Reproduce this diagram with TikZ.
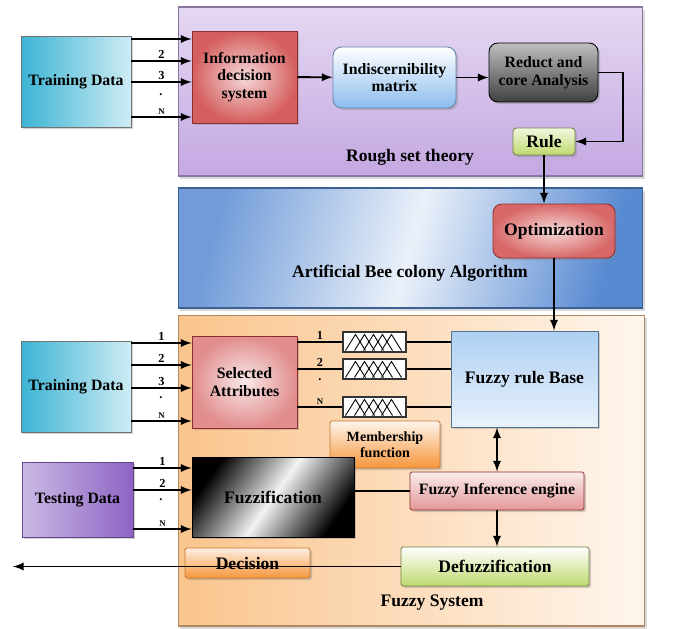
\documentclass[tikz,border=0pt]{standalone}
\usepackage{fontspec}
\setmainfont{Liberation Serif}
\usetikzlibrary{arrows, shadows, calc, positioning}

\definecolor{tdcyan}{RGB}{60,180,212}
\definecolor{rstpurple}{RGB}{196,168,226}
\definecolor{abcblue}{RGB}{88,138,210}
\definecolor{fsorange}{RGB}{250,196,140}
\definecolor{idsred}{RGB}{206,66,66}
\definecolor{indblue}{RGB}{140,188,238}
\definecolor{rulegreen}{RGB}{190,218,110}
\definecolor{tsdpurple}{RGB}{140,100,196}
\definecolor{mforange}{RGB}{246,150,60}

\tikzset{
  panel/.style={draw=#1!70!black, line width=0.6pt, drop shadow={opacity=0.3, shadow xshift=1pt, shadow yshift=-1.5pt}},
  blk/.style={draw=black!55, line width=0.5pt, align=center, inner sep=1pt,
    font=\bfseries\fontsize{10}{11}\selectfont,
    drop shadow={opacity=0.35, shadow xshift=1.2pt, shadow yshift=-1.2pt}},
  small/.style={font=\bfseries\fontsize{9}{10}\selectfont},
  lbl/.style={font=\bfseries\fontsize{7}{8}\selectfont, inner sep=1pt},
  nlbl/.style={font=\bfseries\fontsize{5}{6}\selectfont, inner sep=1pt},
  title/.style={font=\bfseries\fontsize{10}{11}\selectfont, inner sep=0pt},
  wire/.style={line width=1.1pt},
}

\begin{document}
\begin{tikzpicture}[x=0.02cm, y=-0.02cm, >=latex]
\useasboundingbox (0,0) rectangle (675,628);

\node[panel=rstpurple, top color=rstpurple!45, bottom color=rstpurple, minimum width=9.3cm, minimum height=3.38cm] (rst) at (410.5,91.5) {};
\node[panel=abcblue, shading=axis, left color=abcblue!85, right color=abcblue, middle color=abcblue!12, shading angle=75, minimum width=9.3cm, minimum height=2.4cm] (abc) at (410.5,248) {};
\node[panel=fsorange, left color=fsorange, right color=fsorange!15, minimum width=9.34cm, minimum height=6.22cm] (fs) at (411.5,470.5) {};

\node[title] (rsttxt) at (410,157) {Rough set theory};
\node[title] (abctxt) at (410,273) {Artificial Bee colony Algorithm};
\node[title] (fstxt) at (432,603) {Fuzzy System};

\node[blk, small, left color=tdcyan, right color=tdcyan!25, minimum width=2.2cm, minimum height=1.82cm] (td1) at (76,81.5) {Training Data};
\node[blk, small, draw=idsred!70!black, inner color=idsred!20, outer color=idsred!85, minimum width=2.1cm, minimum height=1.84cm] (ids) at (244.5,77) {Information\\decision\\system};
\node[blk, small, rounded corners=5pt, top color=white, bottom color=indblue, draw=indblue!70!black, minimum width=2.46cm, minimum height=1.22cm] (ind) at (394.5,77.5) {Indiscernibility\\matrix};
\node[blk, small, rounded corners=5pt, top color=black!25, bottom color=black!75, draw=black, minimum width=2.18cm, minimum height=1.18cm] (reduct) at (543.5,72.5) {Reduct and\\core Analysis};
\node[blk, rounded corners=2pt, top color=rulegreen!20, bottom color=rulegreen, draw=rulegreen!60!black, minimum width=1.24cm, minimum height=0.54cm] (rule) at (544,141.5) {Rule};
\node[blk, rounded corners=5pt, draw=idsred!70!black, inner color=idsred!20, outer color=idsred!80, minimum width=2.44cm, minimum height=1.08cm] (opt) at (554,231) {Optimization};

\node[blk, small, left color=tdcyan, right color=tdcyan!25, minimum width=2.2cm, minimum height=1.82cm] (td2) at (76,386.5) {Training Data};
\node[blk, small, draw=idsred!70!black, inner color=idsred!12, outer color=idsred!60, minimum width=2.1cm, minimum height=1.84cm] (sa) at (244.5,382) {Selected\\Attributes};
\node[draw=black!80, fill=white, line width=0.6pt, minimum width=1.26cm, minimum height=0.4cm] (mf1) at (374.5,342) {};
\node[draw=black!80, fill=white, line width=0.6pt, minimum width=1.26cm, minimum height=0.4cm] (mf2) at (374.5,369) {};
\node[draw=black!80, fill=white, line width=0.6pt, minimum width=1.26cm, minimum height=0.4cm] (mf3) at (374.5,407) {};
\node[blk, top color=indblue!70, bottom color=indblue!20, draw=indblue!60!black, minimum width=2.94cm, minimum height=1.92cm] (frb) at (524.5,379) {Fuzzy rule Base};
\node[blk, font=\bfseries\fontsize{8}{9}\selectfont, rounded corners=1pt, top color=mforange!10, bottom color=mforange, draw=mforange!80!black, minimum width=2.2cm, minimum height=0.94cm] (mfn) at (385,444.5) {Membership\\function};

\node[blk, small, left color=tsdpurple!45, right color=tsdpurple, draw=tsdpurple!70!black, minimum width=2.22cm, minimum height=1.5cm] (tsd) at (77.5,499.5) {Testing Data};
\node[blk, shading=axis, left color=black, right color=black, middle color=black!5, shading angle=55, draw=black, minimum width=3.24cm, minimum height=1.6cm] (fuzz) at (273,497) {Fuzzification};
\node[blk, rounded corners=1pt, top color=mforange!15, bottom color=mforange, draw=mforange!80!black, minimum width=2.5cm, minimum height=0.6cm] (dec) at (247.5,563) {Decision};
\node[blk, small, rounded corners=1pt, top color=idsred!10, bottom color=idsred!55, draw=idsred!70!black, minimum width=3.48cm, minimum height=0.76cm] (fie) at (497,491) {Fuzzy Inference engine};
\node[blk, rounded corners=1pt, top color=white, bottom color=rulegreen, draw=rulegreen!60!black, minimum width=3.76cm, minimum height=0.78cm] (defuzz) at (495,566.5) {Defuzzification};
\coordinate (out) at (13,566.5);

\foreach \m in {mf1,mf2,mf3}
  \foreach \i in {0,...,4}
    \draw[line width=0.5pt] ($(\m.south west)+(3+9*\i,-2)$) -- ($(\m.north west)+(13+9*\i,3)$) -- ($(\m.south west)+(23+9*\i,-2)$);

\draw[wire]
(td1.east |- 0,39) edge[->] (ids.west |- 0,39)
(td1.east |- 0,61) edge[->, above=1.5pt] node[lbl]{2} (ids.west |- 0,61)
(td1.east |- 0,82) edge[->, above=1.5pt] node[lbl]{3} (ids.west |- 0,82)
(td1.east |- 0,117) edge[->, above=1.5pt] node[nlbl]{N} (ids.west |- 0,117);
\node[lbl] (d1) at (161,95) {.};

\draw[wire, ->] (ids) -- (ind);
\draw[wire, ->] (ind.east) -- (ind.east -| reduct.west);
\draw[wire, ->] (reduct.east) -- ++(25,0) |- (rule.east);
\draw[wire, ->] (rule.south) -- (rule.south |- opt.north);
\draw[wire, ->] (opt.south) -- (opt.south |- frb.north);

\draw[wire]
(td2.east |- 0,343) edge[->, above=1.5pt] node[lbl]{1} (sa.west |- 0,343)
(td2.east |- 0,365) edge[->, above=1.5pt] node[lbl]{2} (sa.west |- 0,365)
(td2.east |- 0,388) edge[->, above=1.5pt] node[lbl]{3} (sa.west |- 0,388)
(td2.east |- 0,421) edge[->, above=1.5pt] node[nlbl]{N} (sa.west |- 0,421);
\node[lbl] (d2) at (161,398) {.};

\draw[wire]
(sa.east |- mf1) edge[above=1.5pt] node[lbl]{1} (mf1.west)
(sa.east |- mf2) edge[above=1.5pt] node[lbl]{2} (mf2.west)
(sa.east |- mf3) edge[above=1.5pt] node[nlbl]{N} (mf3.west);
\node[lbl] (d3) at (320,380) {.};

\draw[wire] (mf1.east) -- (mf1.east -| frb.west);
\draw[wire] (mf2.east) -- (mf2.east -| frb.west);
\draw[wire] (mf3.east) -- (mf3.east -| frb.west);

\draw[wire]
(tsd.east |- 0,468) edge[->, above=1.5pt] node[lbl]{1} (fuzz.west |- 0,468)
(tsd.east |- 0,490) edge[->, above=1.5pt] node[lbl]{2} (fuzz.west |- 0,490)
(tsd.east |- 0,529) edge[->, above=1.5pt] node[nlbl]{N} (fuzz.west |- 0,529);
\node[lbl] (d4) at (161,500) {.};

\draw[wire] (fuzz.east |- fie.west) -- (fie.west);
\draw[wire, <->] (fie.north |- frb.south) -- (fie.north);
\draw[wire, ->] (fie.south) -- (fie.south |- defuzz.north);
\draw[wire, ->] (defuzz.west) -- (out);
\end{tikzpicture}
\end{document}
